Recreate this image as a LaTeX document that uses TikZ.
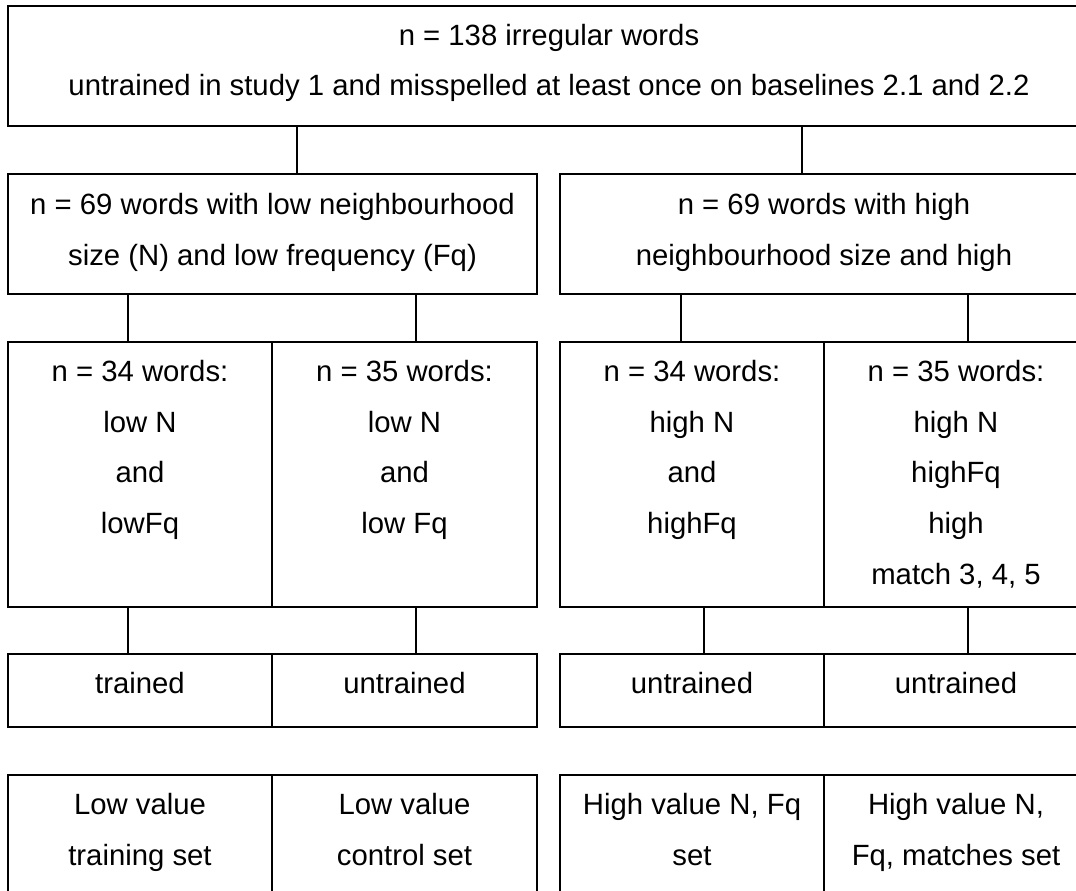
\documentclass[tikz,border=0pt]{standalone}
\usepackage{fontspec}
\setmainfont{Liberation Sans}
\newcommand{\boxtext}[1]{\begin{tabular}[t]{@{}c@{}}#1\end{tabular}}
\begin{document}
\begin{tikzpicture}[x=1pt,y=-1pt,
  box/.style={draw, line width=1.6pt, rectangle, inner sep=0pt},
  lbl/.style={anchor=base, inner sep=0pt, font=\fontsize{29.3}{50.8}\selectfont},
  conn/.style={line width=1.6pt}]
\useasboundingbox (0,0) rectangle (1076,891);
\clip (0,0) rectangle (1076,891);
% boxes: centre, width, height
\node[box, minimum width=1082pt, minimum height=120pt] (top) at (549,66) {};
\node[box, minimum width=529pt, minimum height=120pt] (L2) at (272.5,234) {};
\node[box, minimum width=528pt, minimum height=120pt] (R2) at (824,234) {};
\node[box, minimum width=264pt, minimum height=265pt] (L3a) at (140,474.5) {};
\node[box, minimum width=265pt, minimum height=265pt] (L3b) at (404.5,474.5) {};
\node[box, minimum width=264pt, minimum height=265pt] (R3a) at (692,474.5) {};
\node[box, minimum width=264pt, minimum height=265pt] (R3b) at (956,474.5) {};
\node[box, minimum width=264pt, minimum height=73pt] (L4a) at (140,690.5) {};
\node[box, minimum width=265pt, minimum height=73pt] (L4b) at (404.5,690.5) {};
\node[box, minimum width=264pt, minimum height=73pt] (R4a) at (692,690.5) {};
\node[box, minimum width=264pt, minimum height=73pt] (R4b) at (956,690.5) {};
\node[box, minimum width=264pt, minimum height=150pt] (L5a) at (140,850) {};
\node[box, minimum width=265pt, minimum height=150pt] (L5b) at (404.5,850) {};
\node[box, minimum width=264pt, minimum height=150pt] (R5a) at (692,850) {};
\node[box, minimum width=264pt, minimum height=150pt] (R5b) at (956,850) {};
% texts
\node[lbl] (ttop) at ([yshift=-40pt]top.north) {\boxtext{n = 138 irregular words\\ untrained in study 1 and misspelled at least once on baselines 2.1 and 2.2}};
\node[lbl] (tL2) at ([yshift=-41pt]L2.north) {\boxtext{n = 69 words with low neighbourhood\\ size (N) and low frequency (Fq)}};
\node[lbl] (tR2) at ([yshift=-41pt]R2.north) {\boxtext{n = 69 words with high\\ neighbourhood size and high}};
\node[lbl] (tL3a) at ([yshift=-40pt]L3a.north) {\boxtext{n = 34 words:\\ low N\\ and\\ lowFq}};
\node[lbl] (tL3b) at ([yshift=-40pt]L3b.north) {\boxtext{n = 35 words:\\ low N\\ and\\ low Fq}};
\node[lbl] (tR3a) at ([yshift=-40pt]R3a.north) {\boxtext{n = 34 words:\\ high N\\ and\\ highFq}};
\node[lbl] (tR3b) at ([yshift=-40pt]R3b.north) {\boxtext{n = 35 words:\\ high N\\ highFq\\ high\\ match 3, 4, 5}};
\node[lbl] (tL4a) at ([yshift=-40pt]L4a.north) {trained};
\node[lbl] (tL4b) at ([yshift=-40pt]L4b.north) {untrained};
\node[lbl] (tR4a) at ([yshift=-40pt]R4a.north) {untrained};
\node[lbl] (tR4b) at ([yshift=-40pt]R4b.north) {untrained};
\node[lbl] (tL5a) at ([yshift=-40pt]L5a.north) {\boxtext{Low value\\ training set}};
\node[lbl] (tL5b) at ([yshift=-40pt]L5b.north) {\boxtext{Low value\\ control set}};
\node[lbl] (tR5a) at ([yshift=-40pt]R5a.north) {\boxtext{High value N, Fq\\ set}};
\node[lbl] (tR5b) at ([yshift=-40pt]R5b.north) {\boxtext{High value N,\\ Fq, matches set}};
% connectors
\draw[conn] (top.south -| 297,0) -- (L2.north -| 297,0);
\draw[conn] (top.south -| 802,0) -- (R2.north -| 802,0);
\draw[conn] (L2.south -| 128,0) -- (L3a.north -| 128,0);
\draw[conn] (L2.south -| 416,0) -- (L3b.north -| 416,0);
\draw[conn] (R2.south -| 681,0) -- (R3a.north -| 681,0);
\draw[conn] (R2.south -| 968,0) -- (R3b.north -| 968,0);
\draw[conn] (L3a.south -| 128,0) -- (L4a.north -| 128,0);
\draw[conn] (L3b.south -| 416,0) -- (L4b.north -| 416,0);
\draw[conn] (R3a.south -| 704,0) -- (R4a.north -| 704,0);
\draw[conn] (R3b.south -| 968,0) -- (R4b.north -| 968,0);
\end{tikzpicture}
\end{document}
